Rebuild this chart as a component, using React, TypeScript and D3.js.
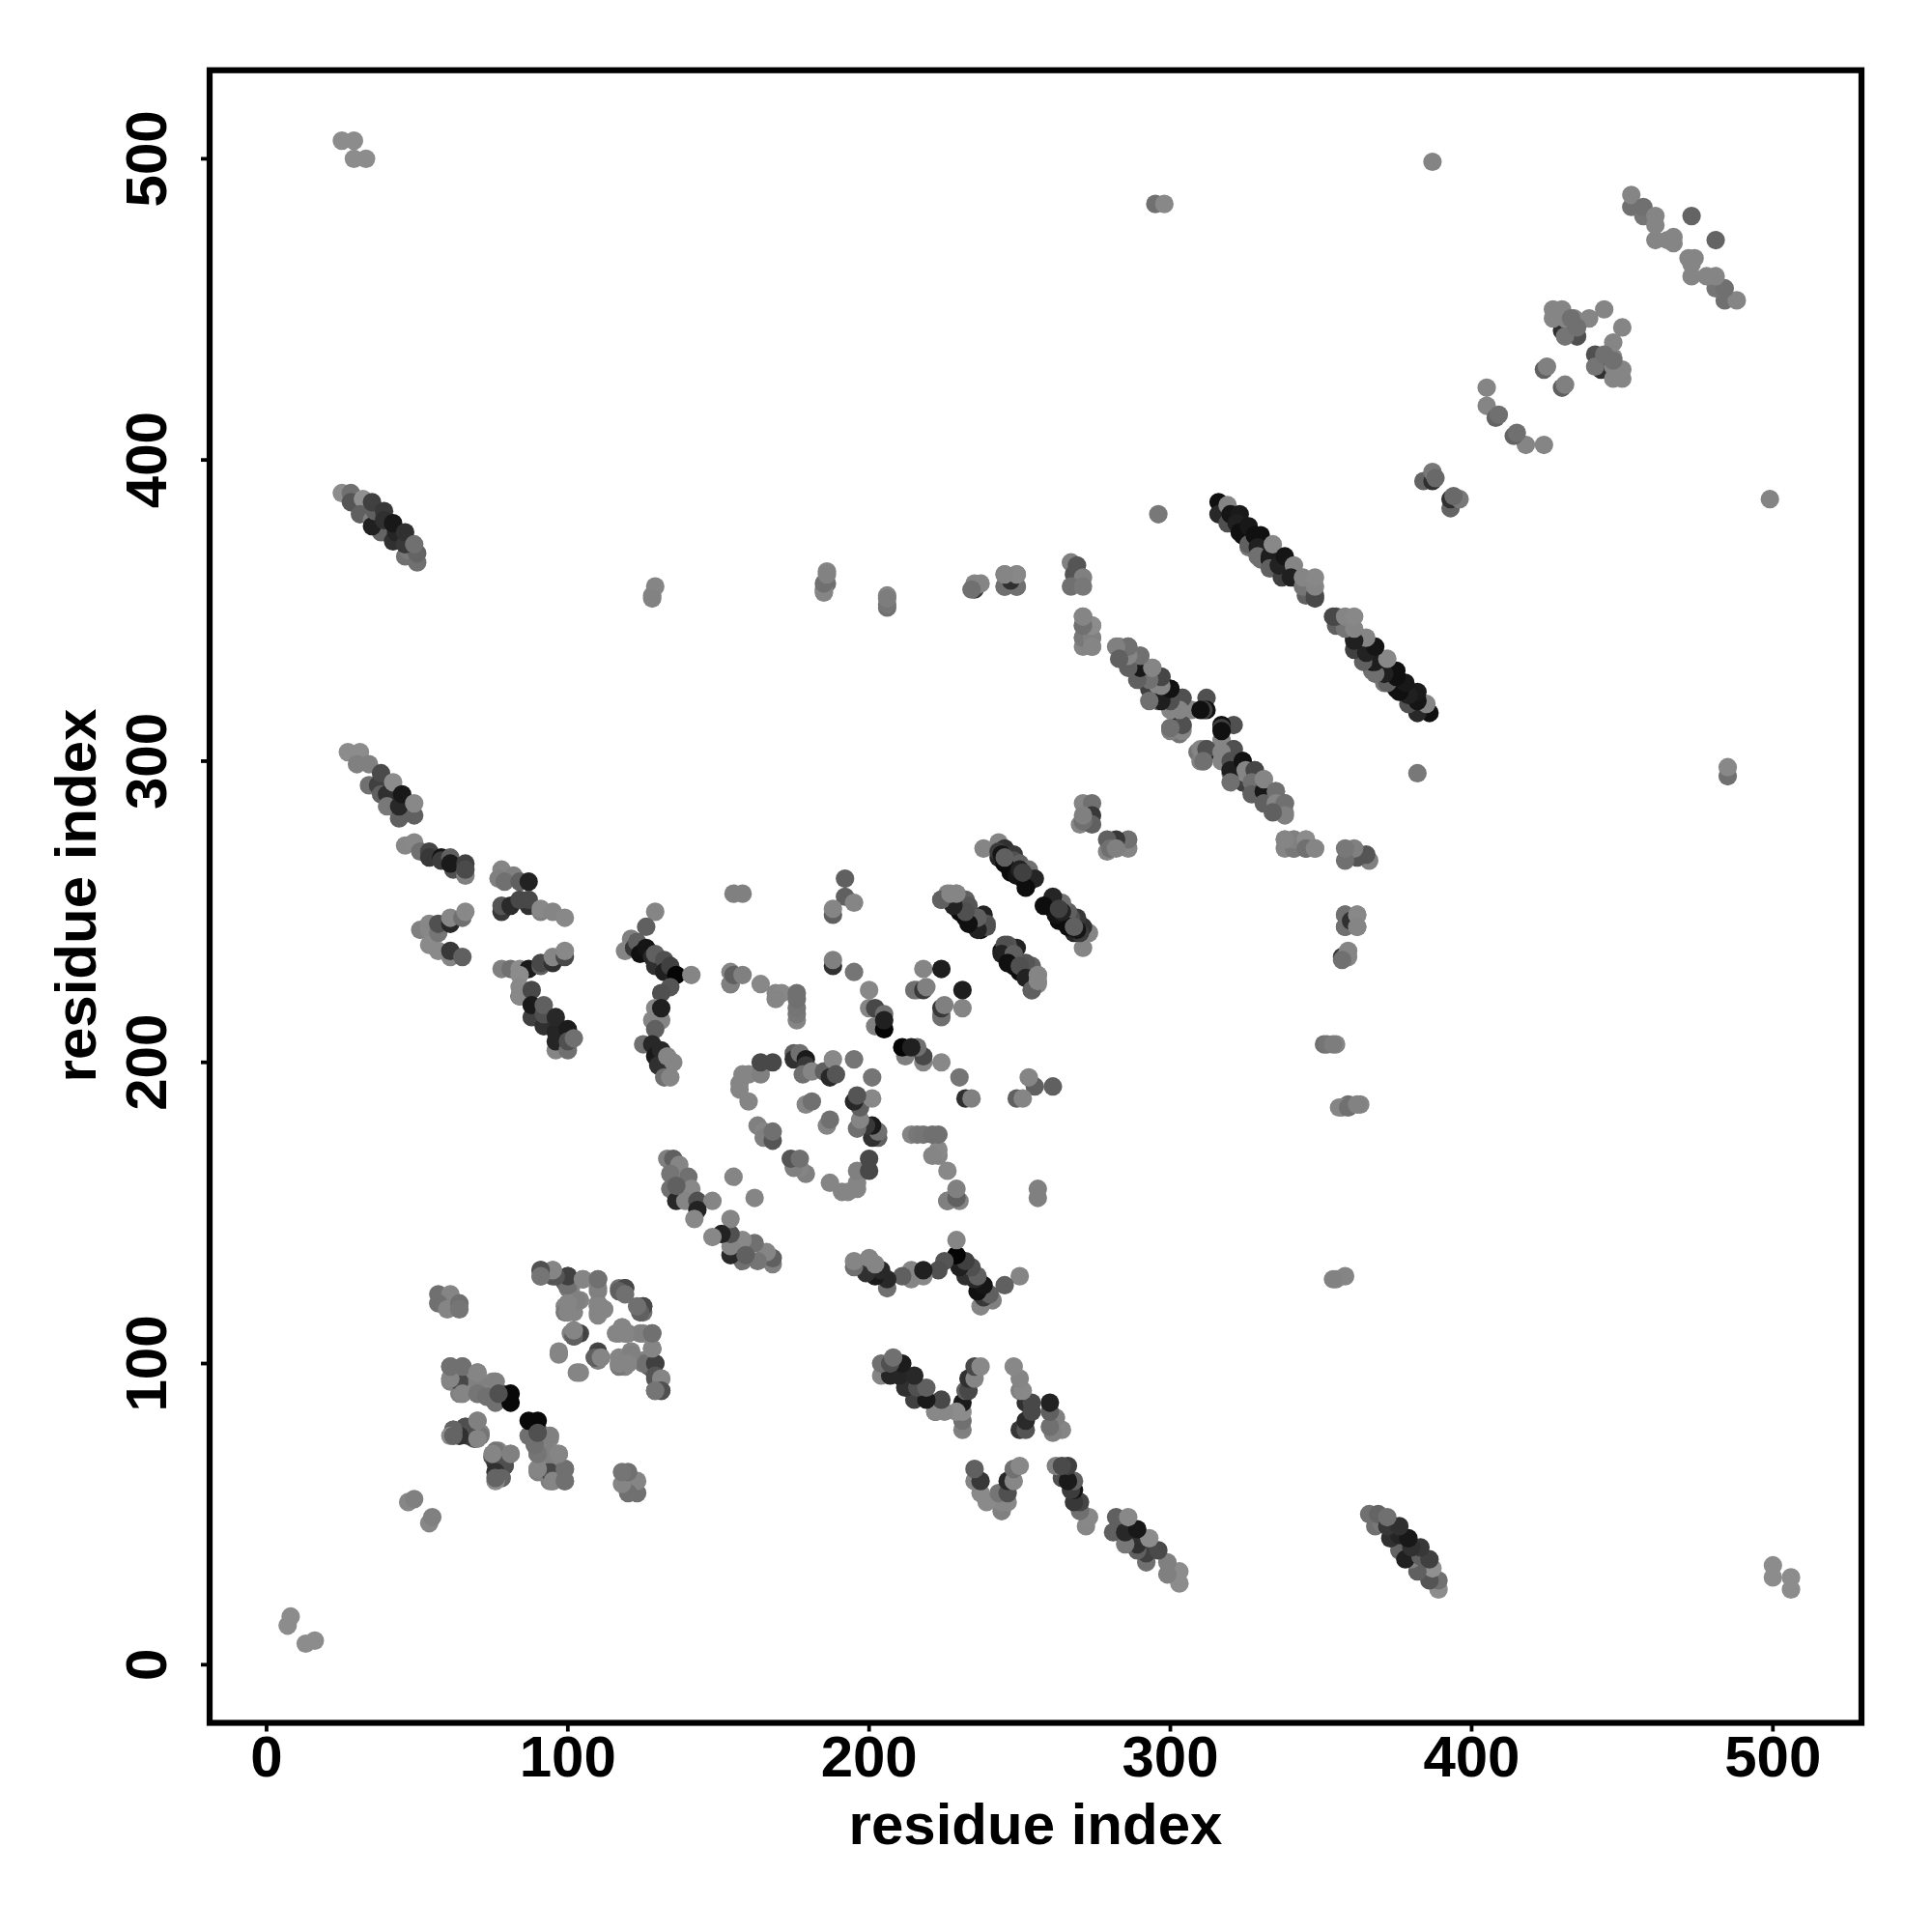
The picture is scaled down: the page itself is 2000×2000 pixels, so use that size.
import React from "react";
import * as d3 from "d3";

// Contacts as [residue i, residue j, grey level]; the map is symmetric, so each is drawn at (i,j) and (j,i).
type Contact = [number, number, number];

const xTicks = [0, 100, 200, 300, 400, 500];
const yTicks = [0, 100, 200, 300, 400, 500];
const axisTitle = "residue index";

const nearDiagonal: Contact[] = [
  [7, 13, 140], [8, 16, 140], [47, 54, 135], [49, 55, 128],
];
const farCorner: Contact[] = [
  [25, 506, 140], [29, 506, 140], [29, 500, 140], [33, 500, 140], [295, 485, 112], [298, 485, 136], [387, 499, 132], [296, 382, 120],
];
const strandTop: Contact[] = [
  [25, 389, 140], [28, 389, 112], [28, 386, 85], [32, 387, 144], [31, 382, 96], [35, 380, 128], [38, 376, 100], [35, 378, 32],
  [36, 383, 96], [35, 386, 64], [39, 383, 56], [39, 380, 48], [42, 373, 48], [43, 376, 37], [42, 379, 24], [46, 368, 112],
  [47, 370, 120], [50, 366, 112], [50, 369, 100], [46, 372, 56], [46, 376, 48], [49, 372, 112],
];
const strandLeft: Contact[] = [
  [27, 303, 140], [31, 303, 140], [30, 299, 128], [34, 299, 128], [34, 292, 112], [37, 292, 64], [38, 296, 74], [38, 289, 96],
  [40, 289, 48], [42, 293, 140], [40, 285, 120], [44, 281, 96], [49, 282, 96], [44, 285, 40], [45, 289, 24], [49, 286, 136],
];
const strandB: Contact[] = [
  [46, 272, 135], [49, 273, 136], [51, 270, 112], [54, 270, 69], [54, 268, 56], [58, 268, 21], [58, 267, 60], [62, 264, 80],
  [61, 268, 96], [61, 266, 26], [66, 262, 128], [66, 266, 64], [66, 264, 74],
];
const strandC: Contact[] = [
  [51, 244, 128], [54, 246, 136], [54, 244, 135], [54, 239, 138], [57, 237, 138], [57, 243, 117], [57, 246, 80], [61, 246, 40],
  [61, 248, 135], [65, 248, 112], [66, 250, 136], [61, 235, 133], [61, 237, 56], [65, 235, 96],
];
const strandD: Contact[] = [
  [78, 264, 133], [77, 261, 128], [82, 262, 128], [79, 260, 112], [84, 260, 96], [87, 260, 34],
  [78, 250, 56], [78, 252, 85], [81, 252, 42], [87, 252, 48], [84, 254, 72], [87, 254, 72], [91, 250, 128], [91, 251, 136], [95, 250, 133], [99, 248, 136],
];
const strandF: Contact[] = [
  [78, 231, 128], [81, 231, 112], [84, 231, 140], [87, 231, 26], [91, 232, 96], [91, 233, 72], [95, 233, 48], [95, 235, 133], [99, 235, 72], [99, 237, 136],
  [84, 222, 32], [84, 229, 140], [84, 225, 136], [84, 222, 136], [88, 224, 72], [88, 215, 64], [88, 219, 26], [92, 212, 48], [92, 216, 80], [92, 219, 96],
  [96, 204, 133], [96, 207, 37], [96, 210, 37], [96, 215, 40], [100, 204, 112], [100, 211, 28], [100, 207, 80], [102, 208, 112],
];
const strandH: Contact[] = [
  [129, 250, 133], [126, 245, 96], [121, 241, 128], [119, 237, 133], [122, 238, 56], [123, 240, 96], [124, 236, 16], [126, 238, 21],
  [128, 235, 40], [129, 232, 48], [129, 236, 96], [132, 234, 80], [132, 230, 32], [134, 232, 64], [136, 229, 5], [141, 229, 133],
  [134, 225, 85], [131, 223, 80], [129, 218, 136], [128, 214, 133], [131, 214, 133], [131, 218, 32], [129, 211, 96], [125, 206, 112],
  [128, 206, 40], [129, 202, 26], [131, 204, 40], [130, 199, 48], [132, 195, 112], [134, 195, 133], [133, 202, 133], [135, 200, 133],
];
const strandMid: Contact[] = [
  [155, 256, 128], [158, 256, 128], [154, 226, 112], [154, 230, 133], [154, 226, 128], [155, 229, 96], [158, 229, 128],
  [164, 226, 136], [169, 223, 133], [171, 223, 136], [169, 221, 133], [176, 214, 133], [176, 216, 120], [176, 218, 117], [176, 221, 112], [176, 223, 112],
  [192, 261, 96], [192, 255, 96], [188, 249, 96], [188, 251, 133], [195, 253, 133], [188, 232, 48], [188, 234, 128], [195, 230, 117],
  [200, 224, 136], [200, 218, 133], [202, 212, 128], [202, 218, 72], [205, 216, 112], [205, 211, 5], [205, 214, 32],
  [216, 224, 133], [215, 224, 112], [218, 224, 56], [219, 225, 128], [218, 231, 133], [224, 231, 30],
];
const spiral: Contact[] = [
  [157, 191, 133], [157, 193, 133], [158, 196, 133], [160, 196, 133], [160, 187, 133], [164, 196, 128], [164, 200, 72], [168, 200, 72],
  [175, 203, 96], [175, 201, 48], [177, 203, 112], [179, 201, 26], [179, 199, 56], [178, 196, 112], [181, 197, 133], [185, 197, 96], [188, 201, 136], [187, 195, 40], [189, 196, 85], [195, 201, 117],
  [179, 186, 133], [181, 187, 112],
  [163, 179, 128], [165, 177, 133], [165, 175, 128], [168, 174, 85], [168, 177, 112],
  [133, 168, 128], [135, 168, 96], [137, 166, 133], [134, 163, 117], [140, 162, 112], [134, 158, 112], [141, 158, 136], [136, 154, 40], [139, 154, 133], [136, 159, 96],
  [143, 154, 80], [148, 154, 133], [143, 151, 34], [142, 148, 136], [155, 162, 133],
];
const parallelA: Contact[] = [
  [238, 271, 133], [243, 273, 133], [245, 271, 48], [243, 268, 37], [246, 267, 16], [248, 269, 56], [248, 264, 16], [248, 267, 80], [250, 266, 96], [251, 261, 16], [253, 260, 16], [253, 264, 112], [255, 261, 37],
  [243, 270, 60], [245, 266, 12], [247, 263, 12], [249, 262, 20], [252, 258, 14], [244, 269, 21], [245, 268, 96], [250, 264, 34], [251, 263, 64],
];
const parallelB: Contact[] = [
  [224, 254, 96], [226, 256, 133], [229, 256, 133], [232, 254, 96], [230, 252, 32], [230, 250, 12], [233, 252, 85], [232, 248, 12], [235, 246, 16], [238, 249, 34], [239, 246, 85], [237, 244, 12],
  [245, 239, 80], [244, 236, 34], [248, 236, 96], [246, 233, 16], [250, 232, 80], [252, 228, 34], [254, 224, 96], [256, 229, 133], [256, 227, 133],
];
const crossStrand: Contact[] = [
  [271, 348, 133], [274, 345, 136], [271, 345, 112], [271, 341, 128], [274, 341, 133], [274, 338, 133],
  [267, 366, 128], [269, 365, 85], [268, 362, 85], [271, 361, 128], [267, 358, 112], [271, 358, 120],
  [271, 286, 133], [274, 286, 112], [274, 282, 56], [270, 279, 133], [274, 279, 96], [271, 280, 112], [271, 282, 128],
  [129, 358, 133], [128, 355, 133], [186, 363, 133], [186, 359, 112], [185, 357, 133], [206, 355, 133], [206, 351, 112],
  [235, 357, 56], [235, 359, 133], [237, 359, 133], [247, 361, 56], [245, 362, 112], [245, 358, 100], [249, 358, 96], [249, 362, 133],
  [206, 352, 117], [206, 354, 125], [185, 356, 133], [185, 359, 112], [186, 362, 130], [128, 354, 130],
  [245, 358, 112], [249, 358, 112], [247, 360, 48], [249, 362, 136], [245, 362, 133], [235, 358, 133], [234, 357, 112],
];
const strandOne: Contact[] = [
  [316, 386, 16], [316, 382, 40], [319, 385, 133], [319, 379, 80], [320, 382, 21], [323, 382, 26], [322, 379, 32], [324, 375, 16], [323, 376, 16], [326, 378, 24],
  [326, 371, 117], [326, 372, 96], [328, 375, 16], [330, 375, 16], [329, 371, 32], [329, 368, 112], [330, 367, 112], [333, 367, 16], [333, 368, 30], [334, 372, 136], [333, 364, 96],
  [337, 361, 64], [336, 365, 34], [338, 368, 21], [341, 361, 34], [341, 365, 133], [340, 361, 32], [345, 355, 96], [344, 358, 117], [345, 358, 117], [344, 361, 133], [348, 355, 80], [348, 354, 72], [348, 358, 133], [348, 361, 136],
];
const strandThree: Contact[] = [
  [283, 338, 133], [286, 338, 128], [287, 331, 96], [290, 335, 120], [290, 331, 32], [290, 327, 96], [294, 331, 133], [293, 328, 40],
  [293, 324, 64], [297, 328, 80], [296, 325, 136], [296, 320, 112], [300, 324, 21], [300, 320, 48], [304, 321, 96], [301, 317, 112],
  [305, 317, 112], [307, 317, 133], [312, 321, 80], [312, 317, 16], [304, 312, 72], [300, 311, 112], [303, 309, 117], [304, 311, 133],
  [311, 317, 64], [300, 310, 128], [303, 312, 30], [301, 320, 133],
];
const strandFour: Contact[] = [
  [310, 317, 16], [304, 310, 133], [304, 312, 80], [300, 311, 112], [304, 321, 80], [303, 317, 133], [300, 317, 133], [300, 320, 80],
  [297, 320, 30], [293, 320, 112], [300, 324, 18], [297, 325, 133], [297, 328, 70], [293, 327, 112], [289, 327, 96], [290, 331, 24], [294, 331, 133],
  [286, 331, 96], [290, 335, 112], [286, 335, 133], [286, 338, 112], [282, 338, 128], [283, 334, 96],
  [271, 338, 133], [271, 341, 120], [274, 341, 128], [274, 338, 133], [274, 345, 140], [271, 345, 112], [271, 348, 133],
];
const diamondLow: Contact[] = [
  [61, 99, 112], [65, 99, 112], [61, 95, 133], [65, 94, 40], [66, 94, 133], [65, 90, 128], [70, 97, 133], [71, 94, 133], [70, 90, 96], [75, 94, 133], [76, 94, 133],
  [76, 90, 80], [76, 87, 112], [78, 90, 69], [81, 90, 8], [81, 87, 8], [62, 78, 117], [66, 79, 69], [66, 78, 37], [70, 81, 133], [71, 77, 133], [69, 75, 80],
  [71, 76, 117], [67, 76, 56], [66, 79, 79], [64, 76, 48], [62, 78, 100], [70, 81, 128], [61, 76, 140], [70, 75, 133],
  [70, 90, 128], [61, 94, 128], [62, 76, 100], [64, 90, 128],
];
const diamondHigh: Contact[] = [
  [91, 131, 80], [91, 129, 96], [95, 131, 128], [95, 129, 85], [100, 129, 64], [99, 127, 96], [105, 128, 133], [101, 125, 133], [110, 128, 117], [110, 125, 133], [117, 125, 112], [119, 125, 72],
  [99, 119, 133], [104, 121, 133], [99, 117, 120], [102, 117, 133], [110, 119, 133], [112, 118, 133], [110, 116, 133], [119, 125, 72], [117, 124, 96], [119, 123, 112],
  [101, 110, 128], [102, 109, 80], [104, 110, 69], [97, 104, 133], [104, 121, 133], [100, 117, 133], [100, 120, 133], [102, 111, 133], [97, 103, 133], [105, 128, 133], [100, 125, 117],
];
const diamondSide: Contact[] = [
  [57, 123, 112], [61, 123, 133], [57, 120, 112], [60, 118, 133], [64, 120, 112], [64, 118, 117],
  [121, 103, 128], [110, 103, 64], [109, 102, 96], [111, 102, 133], [117, 100, 133], [120, 100, 133], [126, 100, 112], [129, 100, 64], [129, 96, 85], [131, 95, 133], [131, 91, 80], [129, 91, 117],
  [128, 105, 133], [117, 110, 133], [118, 112, 133], [120, 110, 133], [124, 110, 128], [128, 110, 112], [119, 110, 133],
  [94, 64, 72], [95, 61, 133], [99, 65, 112], [99, 61, 112], [94, 76, 128], [90, 65, 133], [94, 70, 128], [97, 70, 133], [90, 70, 117], [89, 73, 112], [90, 77, 80],
];
const upperRight: Contact[] = [
  [453, 484, 112], [453, 488, 133], [457, 481, 117], [457, 484, 112], [461, 481, 133], [461, 478, 133], [461, 473, 133], [465, 473, 133], [467, 474, 133], [467, 472, 133], [473, 481, 100],
  [431, 443, 80], [430, 443, 48], [435, 441, 80], [427, 450, 133], [430, 450, 133], [427, 447, 133], [431, 447, 133], [434, 447, 133], [439, 447, 133], [444, 450, 133], [431, 441, 117], [435, 444, 112],
  [433, 447, 112], [424, 430, 96], [425, 431, 128], [405, 424, 133], [405, 418, 133], [408, 414, 100], [409, 415, 112],
  [384, 393, 100], [387, 393, 48], [387, 396, 120], [388, 394, 105],
];

const contacts: Contact[] = [
  ...nearDiagonal, ...farCorner, ...strandLeft, ...strandTop, ...strandB, ...strandC, ...strandD, ...strandF, ...strandH, ...strandMid,
  ...spiral, ...parallelA, ...parallelB, ...crossStrand, ...strandOne, ...strandThree, ...strandFour, ...diamondLow, ...diamondHigh, ...diamondSide, ...upperRight,
];

export default function App() {
  const x = d3.scaleLinear().domain([-18.9, 529.4]).range([217, 1927]);
  const y = d3.scaleLinear().domain([-19.3, 529.4]).range([1783.5, 72.7]);
  const font = "'Liberation Sans', Arial, sans-serif";
  return (
    <svg width={2000} height={2000} style={{ position: "absolute", left: 0, top: 0, background: "#fff" }}>
      <g>
        {contacts.map(([i, j, g], k) => (
          <g key={k} fill={d3.rgb(g, g, g).formatHex()}>
            <circle cx={x(i)} cy={y(j)} r={9.6} />
            <circle cx={x(j)} cy={y(i)} r={9.6} />
          </g>
        ))}
      </g>
      <rect x={217} y={72.7} width={1710} height={1710.8} fill="none" stroke="#000" strokeWidth={6.2} />
      {xTicks.map((t) => (
        <g key={t}>
          <line x1={x(t)} x2={x(t)} y1={1783.5} y2={1792.5} stroke="#000" strokeWidth={3.8} />
          <text x={x(t)} y={1839} textAnchor="middle" fontFamily={font} fontWeight="bold" fontSize={60}>{t}</text>
        </g>
      ))}
      {yTicks.map((t) => (
        <g key={t}>
          <line y1={y(t)} y2={y(t)} x1={217} x2={208} stroke="#000" strokeWidth={3.8} />
          <text transform={`translate(172,${y(t)}) rotate(-90)`} textAnchor="middle" fontFamily={font} fontWeight="bold" fontSize={60}>{t}</text>
        </g>
      ))}
      <text x={1072} y={1909} textAnchor="middle" fontFamily={font} fontWeight="bold" fontSize={60}>{axisTitle}</text>
      <text transform="translate(99,927) rotate(-90)" textAnchor="middle" fontFamily={font} fontWeight="bold" fontSize={60}>{axisTitle}</text>
    </svg>
  );
}
